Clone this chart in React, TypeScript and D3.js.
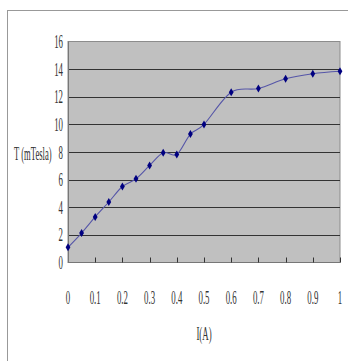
import React from "react";
import * as d3 from "d3";

// current (A) and field (mTesla)
const currents = [0, 0.05, 0.1, 0.15, 0.2, 0.25, 0.3, 0.35, 0.4, 0.45, 0.5, 0.6, 0.7, 0.8, 0.9, 1.0];
const fields = [1.1, 2.13, 3.3, 4.38, 5.5, 6.06, 7.03, 7.95, 7.82, 9.3, 10.0, 12.33, 12.6, 13.3, 13.67, 13.85];
const yTicks = [0, 2, 4, 6, 8, 10, 12, 14, 16];
const xTicks = [0, 0.1, 0.2, 0.3, 0.4, 0.5, 0.6, 0.7, 0.8, 0.9, 1];

const W = 348;
const H = 361;
const plot = { left: 68, right: 340, top: 41.5, bottom: 262.5 };
const FONT = "'Liberation Serif', 'Times New Roman', serif";
// text in the original is squeezed horizontally
const SX = 0.52;
const SY = 1.1;

const x = d3.scaleLinear().domain([0, 1]).range([plot.left, plot.right]);
const y = d3.scaleLinear().domain([0, 16]).range([plot.bottom, plot.top]);

const line = d3
    .line<number>()
    .x((_, i) => x(currents[i]))
    .y((d) => y(d))
    .curve(d3.curveCardinal.tension(0));

const Label: React.FC<{ x: number; y: number; anchor?: string; size?: number; children: React.ReactNode }> = ({
    x,
    y,
    anchor = "middle",
    size = 17,
    children,
}) => (
    <text
        transform={`translate(${x},${y}) scale(${SX},${SY})`}
        textAnchor={anchor}
        fontFamily={FONT}
        fontSize={size}
        fill="#333"
    >
        {children}
    </text>
);

const App: React.FC = () => {
    const diamond = (cx: number, cy: number) => `M${cx},${cy - 4}L${cx + 2.4},${cy}L${cx},${cy + 4}L${cx - 2.4},${cy}Z`;

    return (
        <svg width={W} height={H} style={{ position: "absolute", left: 0, top: 0, background: "#fff" }}>
            {/* chart frame */}
            <rect x={7.5} y={10.5} width={400} height={400} fill="#fff" stroke="#999" />

            {/* plot area */}
            <rect
                x={plot.left}
                y={plot.top}
                width={plot.right - plot.left}
                height={plot.bottom - plot.top}
                fill="#c0c0c0"
                stroke="#8c8c8c"
            />

            {/* gridlines */}
            {yTicks.slice(1, -1).map((t) => (
                <line key={t} x1={plot.left} x2={plot.right} y1={Math.round(y(t)) + 0.5} y2={Math.round(y(t)) + 0.5} stroke="#333" />
            ))}

            {/* axes */}
            <line x1={plot.left + 0.5} x2={plot.left + 0.5} y1={plot.top} y2={plot.bottom} stroke="#777" />
            <line x1={plot.left} x2={plot.right} y1={plot.bottom} y2={plot.bottom} stroke="#777" />
            {xTicks.slice(1).map((t) => (
                <line key={t} x1={Math.round(x(t)) + 0.5} x2={Math.round(x(t)) + 0.5} y1={plot.bottom} y2={plot.bottom - 5} stroke="#333" />
            ))}

            {/* tick labels */}
            {yTicks.map((t) => (
                <Label key={t} x={63} y={y(t) + 6.5} anchor="end">
                    {t}
                </Label>
            ))}
            {xTicks.map((t) => (
                <Label key={t} x={x(t)} y={304}>
                    {t}
                </Label>
            ))}

            {/* axis titles */}
            <Label x={14} y={160} anchor="start" size={16.5}>
                T (mTesla)
            </Label>
            <Label x={(plot.left + plot.right) / 2} y={340} size={17}>
                I(A)
            </Label>

            {/* series */}
            <path d={line(fields) ?? ""} fill="none" stroke="#5656a8" strokeWidth={1.1} />
            {fields.map((v, i) => (
                <path key={i} d={diamond(x(currents[i]), y(v))} fill="#000080" />
            ))}
        </svg>
    );
};

export default App;
